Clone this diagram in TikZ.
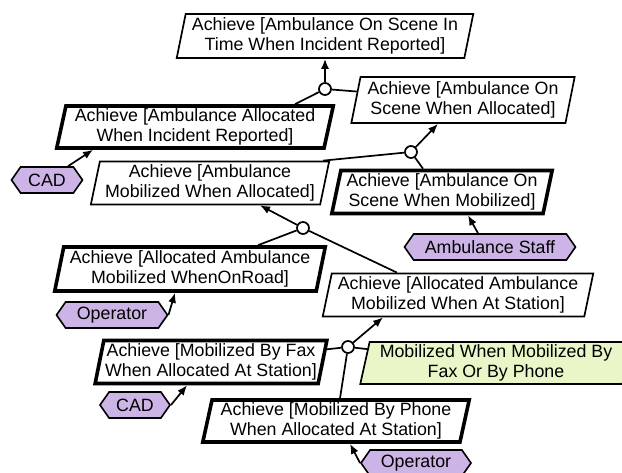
\documentclass[tikz,border=0pt]{standalone}
\usepackage{fontspec}
\setmainfont{Liberation Sans}
\usetikzlibrary{shapes.geometric,shapes.symbols,arrows.meta,calc}
\definecolor{agentfill}{RGB}{204,180,230}
\definecolor{expfill}{RGB}{233,246,200}
\begin{document}
\begin{tikzpicture}[x=1pt,y=-1pt,
  goalbase/.style={trapezium, trapezium left angle=77, trapezium right angle=103,
    trapezium stretches=true, draw, fill=white, inner sep=0pt, align=center,
    font=\fontsize{17.8}{20.5}\selectfont},
  plaingoal/.style={goalbase, line width=1.7pt},
  reqgoal/.style={goalbase, line width=3.6pt},
  expgoal/.style={goalbase, line width=1.7pt, fill=expfill},
  agentbox/.style={signal, signal to=east and west, signal pointer angle=110, draw,
    fill=agentfill, line width=1.6pt, inner sep=0pt, minimum height=26pt,
    font=\fontsize{17.8}{20.5}\selectfont},
  refnode/.style={circle, draw, fill=white, line width=1.7pt, minimum size=12pt, inner sep=0pt},
  link/.style={line width=1.7pt},
  refarrow/.style={line width=1.7pt, -{Latex[length=10pt,width=8pt]}}
]
\useasboundingbox (0,0) rectangle (622,473);

\node[plaingoal, minimum width=297pt, minimum height=44pt] (g1) at (325,36)
  {Achieve [Ambulance On Scene In\\Time When Incident Reported]};
\node[plaingoal, minimum width=224pt, minimum height=46pt] (g3) at (463,100)
  {Achieve [Ambulance On\\Scene When Allocated]};
\node[reqgoal, minimum width=277pt, minimum height=42pt] (g2) at (195,127)
  {Achieve [Ambulance Allocated\\When Incident Reported]};
\node[plaingoal, minimum width=239pt, minimum height=43pt] (g4) at (210,183)
  {Achieve [Ambulance\\Mobilized When Allocated]};
\node[reqgoal, minimum width=221pt, minimum height=43pt] (g5) at (442,192)
  {Achieve [Ambulance On\\Scene When Mobilized]};
\node[reqgoal, minimum width=271pt, minimum height=44pt] (g6) at (190,269)
  {Achieve [Allocated Ambulance\\Mobilized WhenOnRoad]};
\node[plaingoal, minimum width=271pt, minimum height=43pt] (g7) at (458,295)
  {Achieve [Allocated Ambulance\\Mobilized When At Station]};
\node[reqgoal, minimum width=232pt, minimum height=43pt] (g8) at (211,362)
  {Achieve [Mobilized By Fax\\When Allocated At Station]};
\node[expgoal, minimum width=272pt, minimum height=42pt] (ex) at (496,363)
  {Mobilized When Mobilized By\\Fax Or By Phone};
\node[reqgoal, minimum width=267pt, minimum height=42pt] (g9) at (336,421)
  {Achieve [Mobilized By Phone\\When Allocated At Station]};

\node[agentbox, minimum width=71pt] (cad1) at (47,180) {CAD};
\node[agentbox, minimum width=171pt] (staff) at (490,247) {Ambulance Staff};
\node[agentbox, minimum width=111pt] (op1) at (112,315) {Operator};
\node[agentbox, minimum width=70pt] (cad2) at (135,405) {CAD};
\node[agentbox, minimum width=110pt] (op2) at (416,463) {Operator};

\node[refnode] (c1) at (325,89) {};
\node[refnode] (c2) at (411,152) {};
\node[refnode] (c3) at (303,228) {};
\node[refnode] (c4) at (348,347) {};

\draw[refarrow] (c1) -- (g1);
\draw[link] (c1) -- ($(g2.north)+(100,0)$);
\draw[link] (c1) -- (g3);

\draw[refarrow] (c2) -- ($(g3.south)+(-25,0)$);
\draw[link] (c2) -- ($(g4.north)+(113,0)$);
\draw[link] (c2) -- ($(g5.north)+(-19,0)$);

\draw[refarrow] (c3) -- ($(g4.south)+(50,0)$);
\draw[link] (c3) -- ($(g6.north)+(68,0)$);
\draw[link] (c3) -- ($(g7.north)+(-61,0)$);

\draw[refarrow] (c4) -- ($(g7.south)+(-75,0)$);
\draw[link] (c4) -- (g8);
\draw[link] (c4) -- (ex);
\draw[link] (c4) -- ($(g9.north)+(4,0)$);

\draw[refarrow] (cad1) -- ($(g2.south)+(-102,0)$);
\draw[refarrow] ($(staff.north)+(-12,0)$) -- ($(g5.south)+(26,0)$);
\draw[refarrow] (op1.east) -- ($(g6.south)+(-15,0)$);
\draw[refarrow] (cad2.east) -- ($(g8.south)+(-24,0)$);
\draw[refarrow] (op2.west) -- ($(g9.south)+(14,0)$);
\end{tikzpicture}
\end{document}
